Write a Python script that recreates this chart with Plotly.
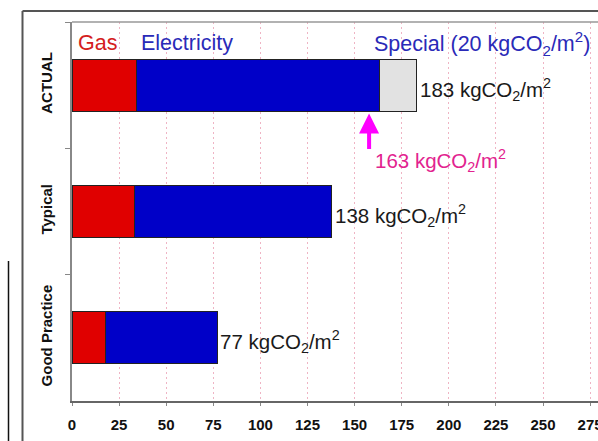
import plotly.graph_objects as go

categories = ["ACTUAL", "Typical", "Good Practice"]
gas = [34, 33, 18]
electricity = [129, 105, 59]
special = [20, 0, 0]
totals = [183, 138, 77]
actual_without_special = 163
x_ticks = [0, 25, 50, 75, 100, 125, 150, 175, 200, 225, 250, 275, 300]

W, H = 598, 441
ML, MR, MT, MB = 72, 0, 22, 40
PW, PH = W - ML - MR, H - MT - MB

def px_x(p):
    return (p - ML) / PW

def px_y(p):
    return (H - MB - p) / PH

fig = go.Figure()
line = dict(color="#222222", width=1)
fig.add_trace(go.Bar(y=categories, x=gas, orientation="h", marker=dict(color="#e00000", line=line), width=0.41, name="Gas"))
fig.add_trace(go.Bar(y=categories, x=electricity, orientation="h", marker=dict(color="#0000c8", line=line), width=0.41, name="Electricity"))
fig.add_trace(go.Bar(y=categories, x=special, orientation="h", marker=dict(color="#e2e2e2", line=line), width=0.41, name="Special"))

unit = "kgCO<sub>2</sub>/m<sup>2</sup>"
font = "Liberation Sans, Arial, sans-serif"
ann = []
for c, t in zip(categories, totals):
    ann.append(dict(x=t, y=c, text=f"{t} {unit}", showarrow=False, xanchor="left", yanchor="middle",
                    xshift=1, yshift=-4, font=dict(family=font, size=20.5, color="#1a1a1a")))
ann.append(dict(x=3, y=-0.33, text="Gas", showarrow=False, xanchor="left", yanchor="middle",
                xshift=-2, font=dict(family=font, size=21.5, color="#d42020")))
ann.append(dict(x=37, y=-0.33, text="Electricity", showarrow=False, xanchor="left", yanchor="middle",
                xshift=-3, font=dict(family=font, size=21.5, color="#2a2ab8")))
ann.append(dict(x=161, y=-0.33, text=f"Special ({special[0]} {unit})", showarrow=False, xanchor="left", yanchor="middle",
                xshift=-3, font=dict(family=font, size=21.5, color="#2a2ab8")))
ann.append(dict(x=actual_without_special, y=0.225, ax=0, ay=37, axref="pixel", ayref="pixel", text="", showarrow=True,
                xshift=-10, arrowhead=2, arrowsize=1, arrowwidth=4, arrowcolor="#ff00ff"))
ann.append(dict(x=actual_without_special, y=0.6, text=f"{actual_without_special} {unit}", showarrow=False,
                xanchor="left", yanchor="middle", xshift=-6,
                font=dict(family=font, size=20.5, color="#e2238f")))

shapes = [
    dict(type="line", xref="paper", yref="paper", x0=0, x1=1, y0=1, y1=1, line=dict(color="#999999", width=1.5)),
    dict(type="line", xref="paper", yref="paper", x0=px_x(22.5), x1=px_x(22.5), y0=px_y(11), y1=px_y(441), line=dict(color="#555555", width=2)),
    dict(type="line", xref="paper", yref="paper", x0=px_x(22.5), x1=px_x(600), y0=px_y(11), y1=px_y(11), line=dict(color="#555555", width=2)),
    dict(type="line", xref="paper", yref="paper", x0=px_x(8.5), x1=px_x(8.5), y0=px_y(261), y1=px_y(441), line=dict(color="#111111", width=1.5)),
]

fig.update_layout(
    width=W, height=H, barmode="stack", showlegend=False,
    margin=dict(l=ML, r=MR, t=MT, b=MB, pad=0, autoexpand=False),
    paper_bgcolor="white", plot_bgcolor="white",
    annotations=ann, shapes=shapes,
    xaxis=dict(range=[0, (W - ML - MR) / 1.884], tickvals=x_ticks, showgrid=True, gridcolor="#efb4c4",
               griddash="2px,3px", gridwidth=1, zeroline=False, showline=True, linecolor="#666666", linewidth=1.5,
               ticks="outside", ticklen=3, tickcolor="#888888", automargin=False, ticklabeloverflow="allow",
               ticklabelstandoff=6,
               tickfont=dict(family=font, size=15, color="#111111", weight="bold")),
    yaxis=dict(range=[2.5, -0.5], showgrid=False, zeroline=False, showline=True, linecolor="#888888", linewidth=1.5,
               ticks="outside", ticklen=5, tickcolor="#888888", tickson="boundaries", tickangle=-90, automargin=False,
               tickfont=dict(family=font, size=15, color="#111111", weight="bold"), ticklabelstandoff=12),
)
fig.write_html("out.html", config={"displayModeBar": False},
               post_script="document.body.style.margin='0';document.body.style.overflow='hidden';")
